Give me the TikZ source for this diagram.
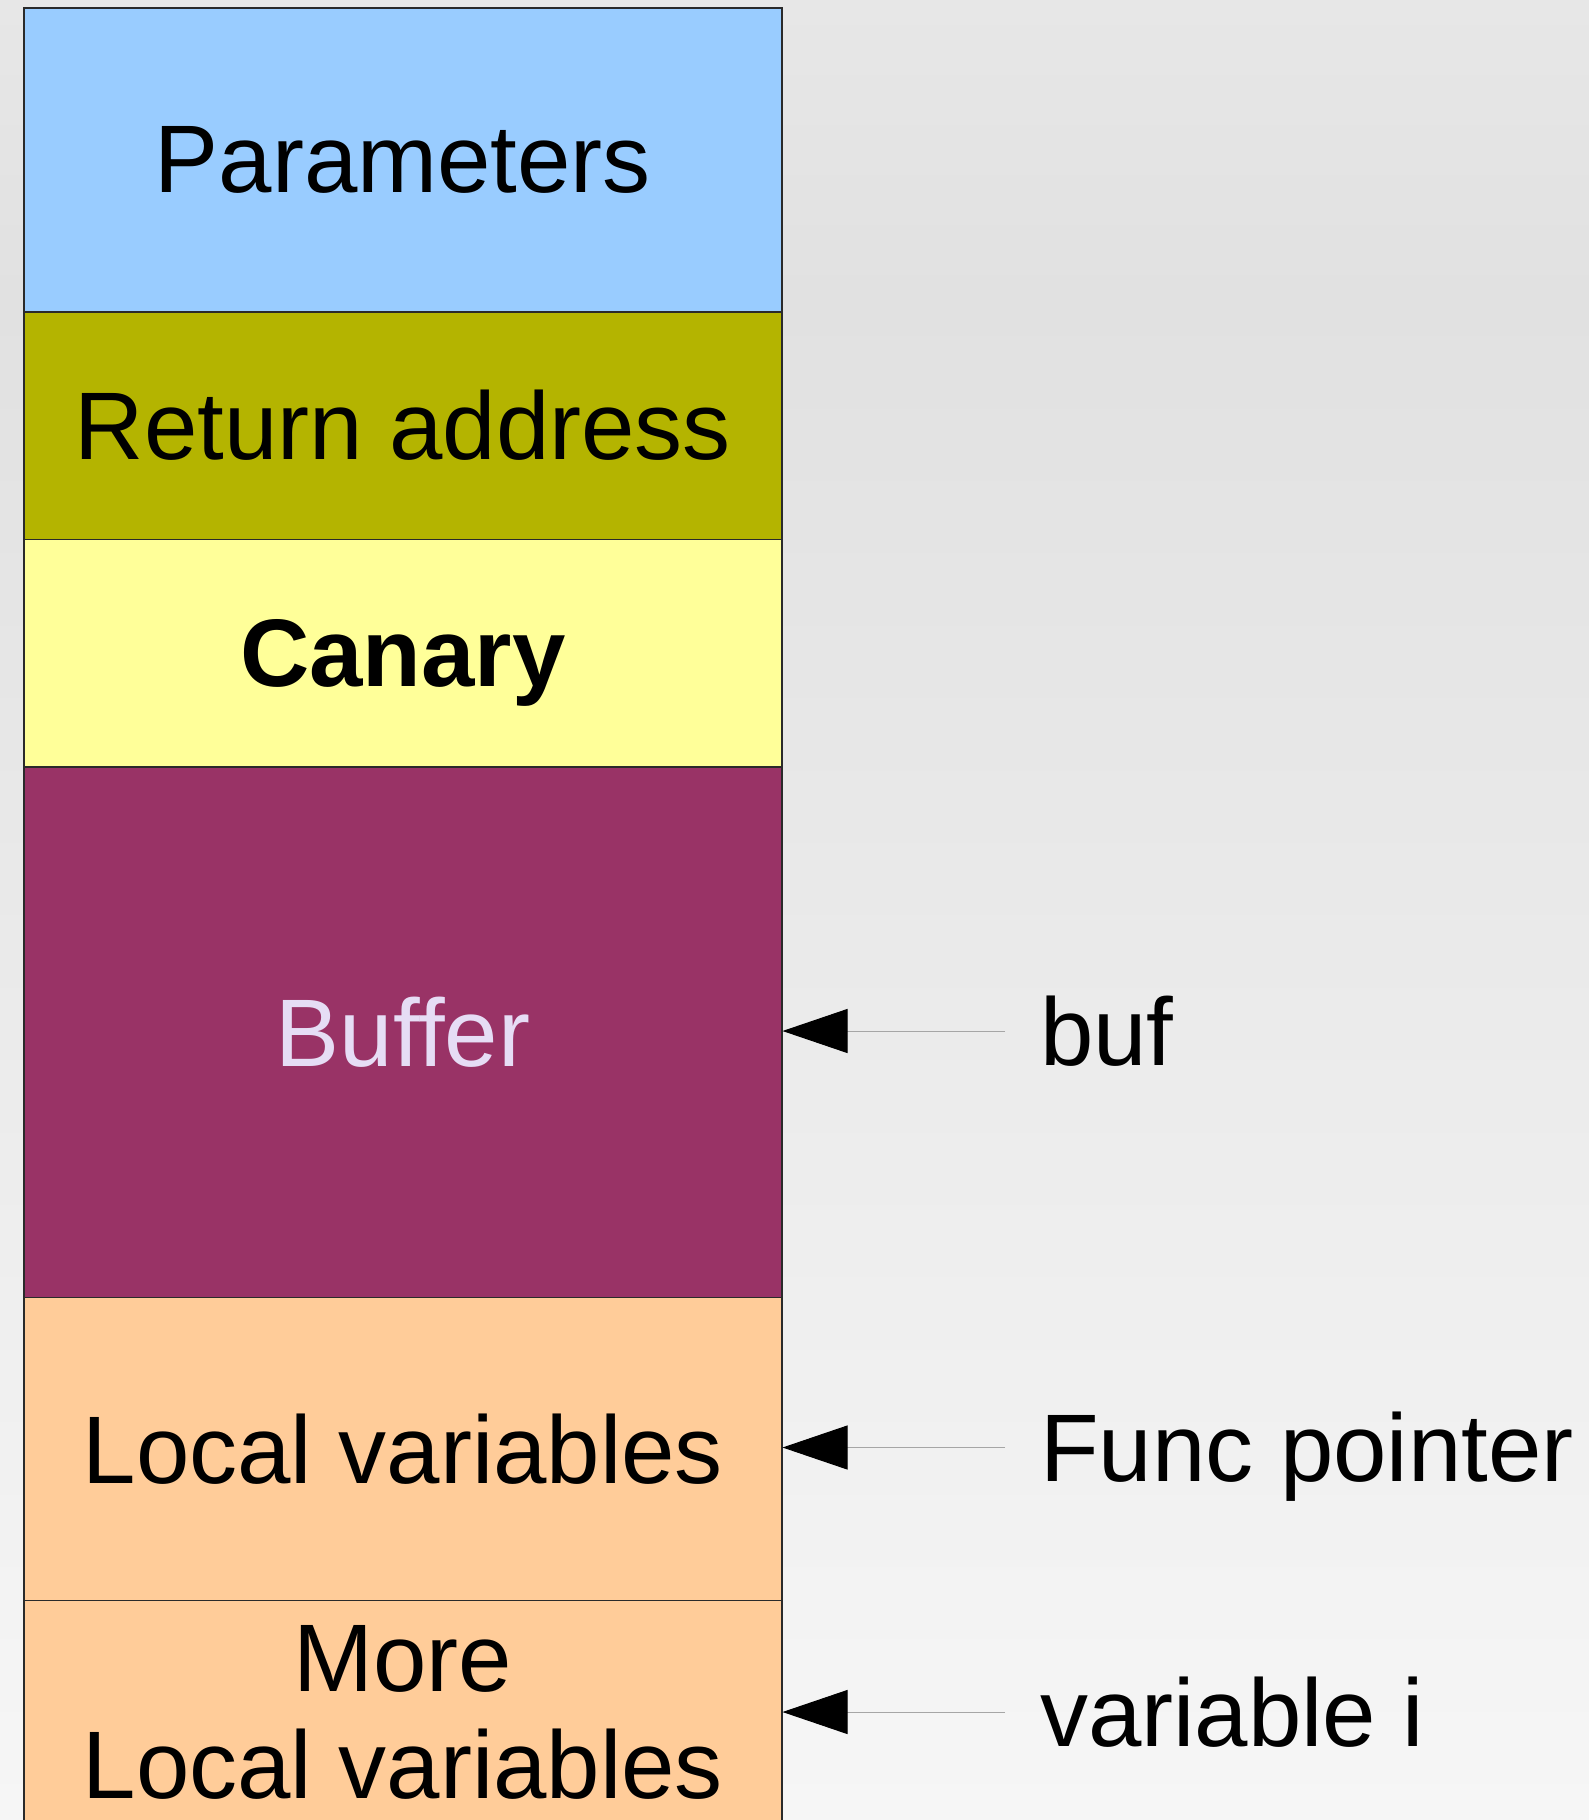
\documentclass[tikz,border=0pt]{standalone}
\usepackage{fontspec}
\setmainfont{Liberation Sans}
\usetikzlibrary{arrows.meta}
\definecolor{bgtop}{HTML}{E7E7E7}
\definecolor{bgmid}{HTML}{E1E1E1}
\definecolor{bgbot}{HTML}{F6F6F6}
\definecolor{cparam}{HTML}{99CCFF}
\definecolor{cret}{HTML}{B4B400}
\definecolor{ccan}{HTML}{FFFF99}
\definecolor{cbuf}{HTML}{993366}
\definecolor{cbuftext}{HTML}{E6DDF5}
\definecolor{cloc}{HTML}{FFCC99}
\definecolor{cedge}{HTML}{2A2A2A}
\tikzset{
  x=1pt, y=-1pt,
  stackbox/.style={draw=cedge, line width=1.5pt, inner sep=0pt, minimum width=757.7pt, anchor=north west,
    font=\fontsize{96}{107}\selectfont, align=center},
  lbl/.style={anchor=base west, inner sep=0pt, font=\fontsize{96}{107}\selectfont},
  ptr/.style={draw=gray!70, line width=1pt, -{Triangle[length=65pt,width=44pt,fill=black,color=black]}},
}
\begin{document}
\begin{tikzpicture}
\useasboundingbox (0,0) rectangle (1589,1820);
\clip (0,0) rectangle (1589,1820);
\shade[top color=bgtop, bottom color=bgmid] (0,0) rectangle (1589,300);
\shade[top color=bgmid, bottom color=bgbot] (0,299.5) rectangle (1589,1820);

\node[stackbox, fill=cparam, minimum height=304pt] (param) at (23.3,7) {Parameters};
\node[stackbox, fill=cret, minimum height=227.5pt] (ret) at (23.3,311) {Return address};
\node[stackbox, fill=ccan, minimum height=227.5pt, text depth=0pt] (can) at (23.3,538.5) {\bfseries Canary};
\node[stackbox, fill=cbuf, minimum height=530.5pt, text=cbuftext] (buf) at (23.3,766) {Buffer};
\node[stackbox, fill=cloc, minimum height=303pt] (loc) at (23.3,1296.5) {Local variables};
\node[stackbox, fill=cloc, minimum height=225pt] (more) at (23.3,1599.5) {More\\Local variables};

\node[lbl] (lbuf) at (1040,1065) {buf};
\node[lbl] (lfunc) at (1040,1481.5) {Func pointer};
\node[lbl] (lvar) at (1040,1746) {variable i};

\coordinate (ebuf) at (1005,1031);
\coordinate (efunc) at (1005,1447.5);
\coordinate (evar) at (1005,1712);

\draw[ptr] (ebuf) -- (buf.east |- ebuf);
\draw[ptr] (efunc) -- (loc.east |- efunc);
\draw[ptr] (evar) -- (more.east |- evar);
\end{tikzpicture}
\end{document}
